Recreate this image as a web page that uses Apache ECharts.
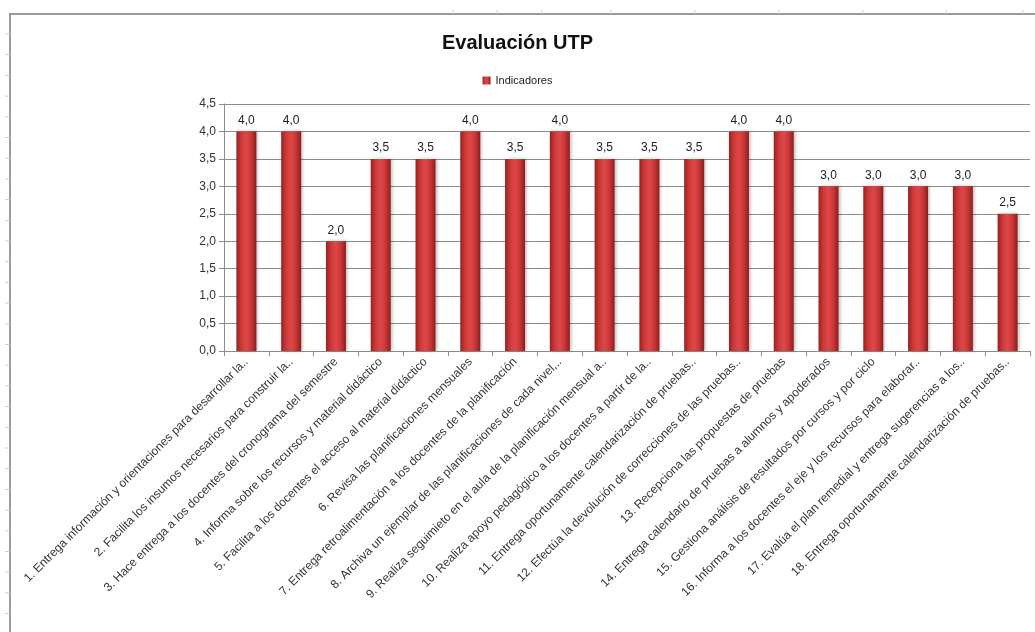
<!DOCTYPE html>
<html>
<head>
<meta charset="utf-8">
<script src="https://cdn.jsdelivr.net/npm/echarts@6/dist/echarts.min.js"></script>
<style>
  html, body { margin: 0; padding: 0; background: #fff; }
  #chart { width: 1035px; height: 632px; }
</style>
</head>
<body>
<div id="chart"></div>
<script>
// datos del grafico
var categorias = [
  "1. Entrega información y orientaciones para desarrollar la..",
  "2. Facilita los insumos necesarios para construir la..",
  "3. Hace entrega a los docentes del cronograma del semestre",
  "4. Informa sobre los recursos y material didáctico",
  "5. Facilita a los docentes el acceso al material didáctico",
  "6. Revisa las planificaciones mensuales",
  "7. Entrega retroalimentación a los docentes de la planificación",
  "8. Archiva un ejemplar de las planificaciones de cada nivel,..",
  "9. Realiza seguimieto en el aula de la planificación mensual a..",
  "10. Realiza apoyo pedagógico a los docentes a partir de la..",
  "11. Entrega oportunamente calendarización de pruebas..",
  "12. Efectúa la devolución de correcciones de las pruebas..",
  "13. Recepciona las propuestas de pruebas",
  "14. Entrega calendario de pruebas a alumnos y apoderados",
  "15. Gestiona análisis de resultados por cursos y por ciclo",
  "16. Informa a los docentes el eje y los recursos para elaborar..",
  "17. Evalúa el plan remedial y entrega sugerencias a los..",
  "18. Entrega oportunamente calendarización de pruebas.."
];
var indicadores = [4, 4, 2, 3.5, 3.5, 4, 3.5, 4, 3.5, 3.5, 3.5, 4, 4, 3, 3, 3, 3, 2.5];

var fuente = '"Liberation Sans", Arial, sans-serif';
function coma(v) { return Number(v).toFixed(1).replace('.', ','); }

var myChart = echarts.init(document.getElementById('chart'));

// marcas tenues del borde de la hoja
var marcas = [];
for (var y = 34; y < 632; y += 20.7) {
  marcas.push({ type: 'line', shape: { x1: 5, y1: y, x2: 10, y2: y }, style: { stroke: '#c8cdd8', lineWidth: 1 }, silent: true });
}
[453, 497, 542, 611, 695, 779, 863, 946, 1023].forEach(function (x) {
  marcas.push({ type: 'line', shape: { x1: x, y1: 10, x2: x, y2: 14 }, style: { stroke: '#c8cdd8', lineWidth: 1 }, silent: true });
});

var option = {
  animation: false,
  textStyle: { fontFamily: fuente },
  title: {
    text: 'Evaluación UTP',
    left: 'center',
    top: 28,
    textStyle: { fontSize: 20, fontWeight: 'bold', color: '#111', fontFamily: fuente }
  },
  legend: {
    data: ['Indicadores'],
    left: 'center',
    top: 70,
    icon: 'rect',
    itemWidth: 8,
    itemHeight: 8,
    itemGap: 4,
    textStyle: { fontSize: 11, color: '#222', fontFamily: fuente }
  },
  graphic: [
    { type: 'line', shape: { x1: 10, y1: 14, x2: 1035, y2: 14 }, style: { stroke: '#9a9a9a', lineWidth: 2 }, silent: true },
    { type: 'line', shape: { x1: 10, y1: 13, x2: 10, y2: 632 }, style: { stroke: '#9a9a9a', lineWidth: 2 }, silent: true }
  ].concat(marcas),
  grid: {
    left: 224,
    right: 5,
    top: 104,
    bottom: 281,
    containLabel: false
  },
  xAxis: {
    type: 'category',
    data: categorias,
    axisLine: { show: true, lineStyle: { color: '#8c8c8c', width: 1 } },
    axisTick: { show: true, length: 5, lineStyle: { color: '#8c8c8c' } },
    axisLabel: {
      rotate: 45,
      interval: 0,
      margin: 9,
      fontSize: 12,
      color: '#333',
      fontFamily: fuente
    }
  },
  yAxis: {
    type: 'value',
    min: 0,
    max: 4.5,
    interval: 0.5,
    axisLine: { show: true, lineStyle: { color: '#8c8c8c', width: 1 } },
    axisTick: { show: true, length: 5, lineStyle: { color: '#8c8c8c' } },
    axisLabel: {
      fontSize: 12,
      color: '#333',
      margin: 8,
      fontFamily: fuente,
      formatter: function (v) { return coma(v); }
    },
    splitLine: { show: true, lineStyle: { color: '#8c8c8c', width: 1 } }
  },
  series: [
    {
      name: 'Indicadores',
      type: 'bar',
      data: indicadores,
      barWidth: 20,
      itemStyle: {
        color: new echarts.graphic.LinearGradient(0, 0, 1, 0, [
          { offset: 0, color: '#9a2020' },
          { offset: 0.25, color: '#cc3a3a' },
          { offset: 0.5, color: '#df4747' },
          { offset: 0.75, color: '#c83636' },
          { offset: 1, color: '#901c1c' }
        ]),
        shadowColor: 'rgba(0,0,0,0.25)',
        shadowBlur: 3,
        shadowOffsetX: 2
      },
      label: {
        show: true,
        position: 'top',
        distance: 5,
        fontSize: 12,
        color: '#222',
        fontFamily: fuente,
        formatter: function (p) { return coma(p.value); }
      }
    }
  ]
};

myChart.setOption(option);
</script>
</body>
</html>
